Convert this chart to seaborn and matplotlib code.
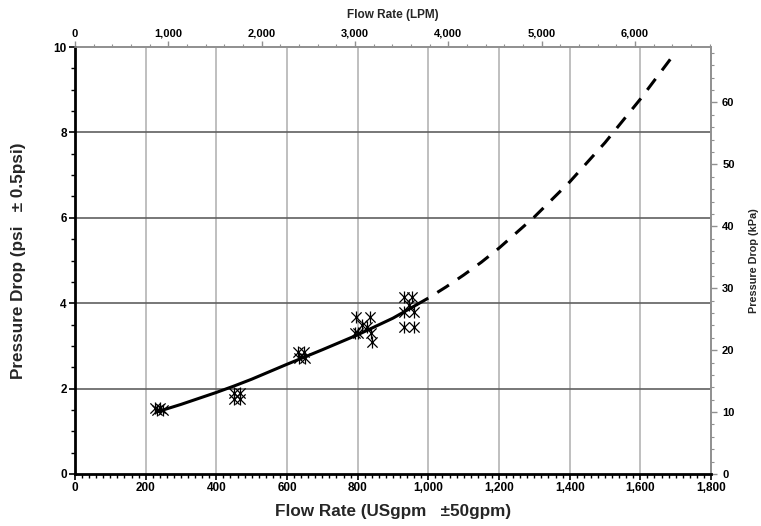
import matplotlib
matplotlib.use("Agg")
import matplotlib.pyplot as plt
import seaborn as sns
import numpy as np
import pandas as pd
from matplotlib.path import Path
from matplotlib.ticker import MultipleLocator, FuncFormatter

# ---- data ----
pts_gpm = [225, 232, 240, 248,
           450, 450, 468, 468,
           632, 648, 635, 650,
           795, 835, 792, 800, 812, 825, 838, 840,
           930, 955, 930, 960, 930, 960, 945]
pts_psi = [1.55, 1.50, 1.55, 1.50,
           1.90, 1.75, 1.90, 1.75,
           2.85, 2.85, 2.72, 2.72,
           3.68, 3.68, 3.30, 3.30, 3.50, 3.45, 3.30, 3.10,
           4.15, 4.15, 3.80, 3.80, 3.45, 3.45, 3.95]

fit_gpm = [230, 300, 350, 400, 450, 500, 600, 700, 800, 900, 966]
fit_psi = [1.45, 1.63, 1.77, 1.91, 2.06, 2.22, 2.57, 2.91, 3.26, 3.65, 3.96]

ext_gpm = [966, 1000, 1050, 1100, 1150, 1200, 1300, 1400, 1500, 1600, 1690]
ext_psi = [3.96, 4.12, 4.38, 4.66, 4.96, 5.29, 6.02, 6.84, 7.76, 8.78, 9.77]

x_ticks = [0, 200, 400, 600, 800, 1000, 1200, 1400, 1600, 1800]
y_ticks = [0, 2, 4, 6, 8, 10]
lpm_ticks = [0, 1000, 2000, 3000, 4000, 5000, 6000]
kpa_ticks = [0, 10, 20, 30, 40, 50, 60]

GPM_TO_LPM = 3.785
PSI_TO_KPA = 6.895

sns.set_theme(style="white")
plt.rcParams['font.family'] = ['Liberation Sans', 'DejaVu Sans']
plt.rcParams['font.weight'] = 'bold'

fig = plt.figure(figsize=(7.61, 5.26), dpi=100)
ax = fig.add_axes([75/761, 1 - 474/526, (711 - 75)/761, (474 - 47)/526])

# grid
for xv in x_ticks[1:-1]:
    ax.axvline(xv, color="#b4b4b4", lw=1.2, zorder=0)
for yv in y_ticks[1:-1]:
    ax.axhline(yv, color="#606060", lw=1.2, zorder=0)

df_fit = pd.DataFrame({"gpm": fit_gpm, "psi": fit_psi})
df_ext = pd.DataFrame({"gpm": ext_gpm, "psi": ext_psi})
df_pts = pd.DataFrame({"gpm": pts_gpm, "psi": pts_psi})

sns.lineplot(data=df_fit, x="gpm", y="psi", ax=ax, color="black", lw=2.2,
             sort=False, estimator=None, zorder=3)
sns.lineplot(data=df_ext, x="gpm", y="psi", ax=ax, color="black", lw=2.2,
             sort=False, estimator=None, zorder=3)
ax.lines[-1].set_dashes([4.5, 3.5])

# Excel-style star marker: an X crossed by a vertical bar
star = Path([(0, -1), (0, 1), (-0.85, -0.85), (0.85, 0.85), (-0.85, 0.85), (0.85, -0.85)],
            [Path.MOVETO, Path.LINETO, Path.MOVETO, Path.LINETO, Path.MOVETO, Path.LINETO])
sns.scatterplot(data=df_pts, x="gpm", y="psi", ax=ax, marker=star,
                s=75, color="black", edgecolor="black", linewidth=0.9, zorder=4)

ax.set_xlim(0, 1800)
ax.set_ylim(0, 10)
ax.set_xticks(x_ticks)
ax.set_yticks(y_ticks)
ax.xaxis.set_minor_locator(MultipleLocator(20))
ax.yaxis.set_minor_locator(MultipleLocator(0.5))
ax.xaxis.set_major_formatter(FuncFormatter(lambda v, p: f"{int(v):,}"))
ax.tick_params(axis="both", which="major", direction="out", length=4, width=1.2,
               labelsize=8.5, pad=2, colors="black")
ax.tick_params(axis="both", which="minor", direction="out", length=3, width=1.0,
               colors="black")
ax.tick_params(axis="y", which="both", left=True)
ax.tick_params(axis="x", which="both", bottom=True)
for lab in ax.get_xticklabels() + ax.get_yticklabels():
    lab.set_fontweight("bold")

for side in ["left", "bottom"]:
    ax.spines[side].set_color("black")
    ax.spines[side].set_linewidth(2.0)
for side in ["top", "right"]:
    ax.spines[side].set_color("#909090")
    ax.spines[side].set_linewidth(1.2)

ax.set_xlabel("Flow Rate (USgpm   \u00b150gpm)", fontsize=12.3,
              fontweight="bold", labelpad=7)
ax.set_ylabel("Pressure Drop (psi   \u00b1 0.5psi)", fontsize=12.3,
              fontweight="bold", labelpad=20)

# top axis: LPM
top = ax.secondary_xaxis("top", functions=(lambda x: x * GPM_TO_LPM,
                                           lambda x: x / GPM_TO_LPM))
top.set_xticks(lpm_ticks)
top.xaxis.set_minor_locator(MultipleLocator(200))
top.xaxis.set_major_formatter(FuncFormatter(lambda v, p: f"{int(v):,}"))
top.tick_params(axis="x", which="major", direction="out", length=4, width=1.0,
                labelsize=8, pad=2, colors="#909090", labelcolor="black")
top.tick_params(axis="x", which="minor", direction="out", length=2.5, width=0.8,
                colors="#909090")
top.spines["top"].set_color("#909090")
for lab in top.get_xticklabels():
    lab.set_fontweight("bold")
top.set_xlabel("Flow Rate (LPM)", fontsize=8.5, fontweight="bold", labelpad=8)

# right axis: kPa
right = ax.secondary_yaxis("right", functions=(lambda y: y * PSI_TO_KPA,
                                               lambda y: y / PSI_TO_KPA))
right.set_yticks(kpa_ticks)
right.yaxis.set_minor_locator(MultipleLocator(2))
right.tick_params(axis="y", which="major", direction="out", length=4, width=1.0,
                  labelsize=8, pad=4, colors="#909090", labelcolor="black")
right.tick_params(axis="y", which="minor", direction="out", length=2.5, width=0.8,
                  colors="#909090")
right.spines["right"].set_color("#909090")
for lab in right.get_yticklabels():
    lab.set_fontweight("bold")
right.set_ylabel("Pressure Drop (kPa)", fontsize=7.8, fontweight="bold", labelpad=10)

fig.savefig("out.png", dpi=100)
